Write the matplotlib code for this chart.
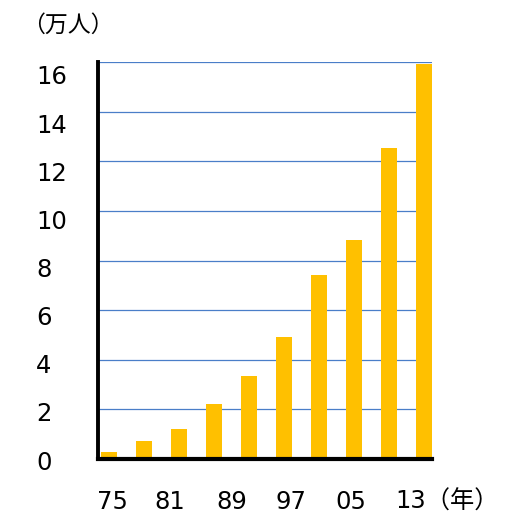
import matplotlib
matplotlib.use("Agg")
import matplotlib.pyplot as plt
from matplotlib.transforms import blended_transform_factory

plt.rcParams['font.family'] = ['DejaVu Sans', 'Noto Sans CJK JP']

# data
values = [0.29, 0.73, 1.22, 2.22, 3.35, 4.93, 7.42, 8.83, 12.53, 15.93]
x_labels = ["75", "81", "89", "97", "05", "13（年）"]
x_label_pos = [0.1, 1.74, 3.5, 5.19, 6.9, 8.17]
y_ticks = [0, 2, 4, 6, 8, 10, 12, 14, 16]
unit_label = "（万人）"

W, H = 524, 518
fig = plt.figure(figsize=(W / 100, H / 100), dpi=100)

left, right = 98 / W, 432 / W
bottom = (H - 459) / H
top = (H - 62) / H
ax = fig.add_axes([left, bottom, right - left, top - bottom])

xs = list(range(len(values)))
ax.bar(xs, values, width=0.46, color="#FFC000", zorder=2)
ax.set_xlim(-0.31, 9.23)
ax.set_ylim(0, 16)
ax.set_yticks(y_ticks)
ax.yaxis.grid(True, color="#4A7EC8", linewidth=0.9, zorder=1)
ax.set_axisbelow(True)
ax.set_xticks([])
ax.tick_params(axis="y", length=0, labelleft=False)
for s in ["top", "right"]:
    ax.spines[s].set_visible(False)
ax.spines["left"].set_linewidth(2.8)
ax.spines["bottom"].set_linewidth(3.0)
ax.spines["left"].set_color("black")
ax.spines["bottom"].set_color("black")
ax.spines["left"].set_zorder(3)
ax.spines["bottom"].set_zorder(3)

# y tick labels (placed on a transparent label axis)
lab_bottom = (H - 460) / H
lab_height = 385 / H
axl = fig.add_axes([left, lab_bottom, right - left, lab_height], frameon=False)
axl.set_ylim(0, 16)
axl.set_xticks([])
axl.set_yticks(y_ticks)
axl.set_yticklabels([str(v) for v in y_ticks], fontsize=17.5)
axl.tick_params(axis="y", length=0, pad=(98 - 36) * 0.72)
for lab in axl.get_yticklabels():
    lab.set_horizontalalignment("left")
axl.patch.set_alpha(0)

# x labels
trans = blended_transform_factory(ax.transData, fig.transFigure)
ypos = (H - 502) / H
for i, (lab, p) in enumerate(zip(x_labels, x_label_pos)):
    ha = "left" if i == len(x_labels) - 1 else "center"
    ax.text(p, ypos, lab, transform=trans, ha=ha, va="center", fontsize=17.5)

fig.text(22 / W, (H - 25) / H, unit_label, ha="left", va="center", fontsize=16.5,
         family=["Noto Sans CJK JP", "DejaVu Sans"])

fig.savefig("out.png", dpi=100)
